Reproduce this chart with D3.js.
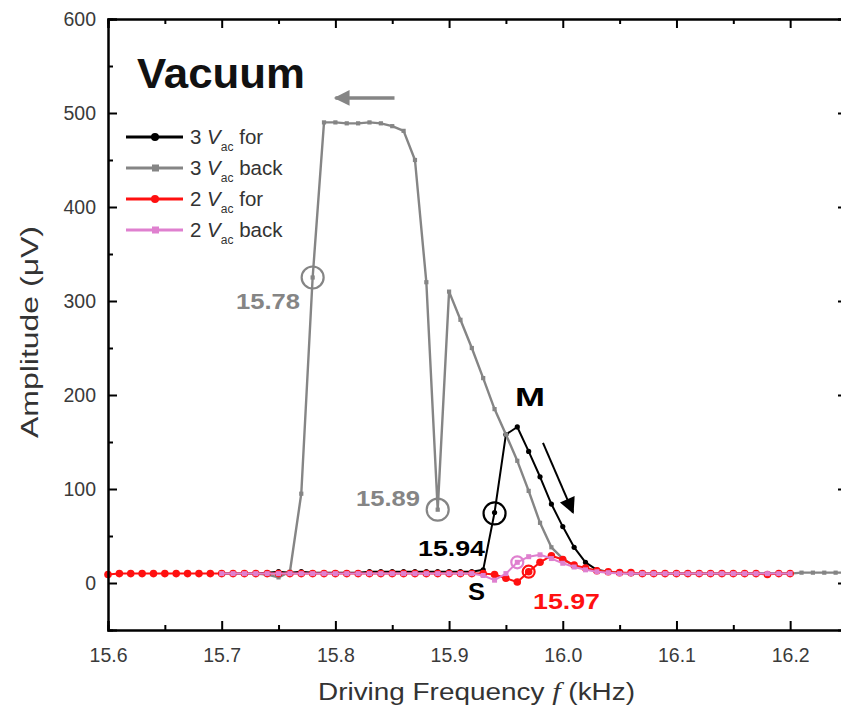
<!DOCTYPE html>
<html><head><meta charset="utf-8">
<script src="https://cdn.jsdelivr.net/npm/d3@7"></script>
<style>body{margin:0;background:#fff}svg{display:block}</style>
</head><body>
<svg id="c" width="841" height="715"></svg>
<script>
// ---- data (kHz, µV) ----
const freq3for = [15.70,15.71,15.72,15.73,15.74,15.75,15.76,15.77,15.78,15.79,15.80,15.81,15.82,15.83,15.84,15.85,15.86,15.87,15.88,15.89,15.90,15.91,15.92,15.93,15.94,15.95,15.96,15.97,15.98,15.99,16.00,16.01,16.02,16.03,16.04,16.05,16.06,16.07,16.08,16.09,16.10,16.11,16.12,16.13,16.14,16.15,16.16,16.17,16.18,16.19,16.20];
const amp3for  = [10,10,10,10,11,12,11,12,11,11,11,11,11,12,12,12,12,12,12,12,12,12,12,14,75,158,166,140,113,84,60,38,22,14,12,11,10,10,10,10,10,10,10,10,10,10,10,10,10,10,10];

const freq3back = [16.25,16.24,16.23,16.22,16.21,16.20,16.19,16.18,16.17,16.16,16.15,16.14,16.13,16.12,16.11,16.10,16.09,16.08,16.07,16.06,16.05,16.04,16.03,16.02,16.01,16.00,15.99,15.98,15.97,15.96,15.95,15.94,15.93,15.92,15.91,15.90,15.89,15.88,15.87,15.86,15.85,15.84,15.83,15.82,15.81,15.80,15.79,15.78,15.77,15.76,15.75,15.74,15.73,15.72,15.71,15.70];
const amp3back  = [11,11,11,11,11,10,10,10,10,10,10,10,10,10,10,10,10,10,10,10,11,12,13,15,18,26,38,64,98,130,158,185,218,250,280,310,78,320,450,481,486,489,490,489,489,490,490,325,95,12,6,9,10,10,10,10];

const freq2for = [15.60,15.61,15.62,15.63,15.64,15.65,15.66,15.67,15.68,15.69,15.70,15.71,15.72,15.73,15.74,15.75,15.76,15.77,15.78,15.79,15.80,15.81,15.82,15.83,15.84,15.85,15.86,15.87,15.88,15.89,15.90,15.91,15.92,15.93,15.94,15.95,15.96,15.97,15.98,15.99,16.00,16.01,16.02,16.03,16.04,16.05,16.06,16.07,16.08,16.09,16.10,16.11,16.12,16.13,16.14,16.15,16.16,16.17,16.18,16.19,16.20];
const amp2for  = [9,10,10,10,10,10,10,10,10,10,10,10,10,10,10,10,10,10,10,10,10,10,10,10,10,10,10,10,10,10,10,10,10,10,9,5,1,12,22,29,25,19,16,13,12,11,11,10,10,10,10,10,10,10,10,10,10,10,9,10,10];

const freq2back = [16.20,16.19,16.18,16.17,16.16,16.15,16.14,16.13,16.12,16.11,16.10,16.09,16.08,16.07,16.06,16.05,16.04,16.03,16.02,16.01,16.00,15.99,15.98,15.97,15.96,15.95,15.94,15.93,15.92,15.91,15.90,15.89,15.88,15.87,15.86,15.85,15.84,15.83,15.82,15.81,15.80,15.79,15.78,15.77,15.76,15.75,15.74,15.73,15.72,15.71,15.70];
const amp2back  = [10,10,10,10,10,10,10,10,10,10,10,10,10,10,10,10,11,12,14,17,21,26,30,28,22,10,3,8,10,10,10,10,10,10,10,10,10,10,10,10,10,10,10,10,10,10,10,10,10,10,10];

const xTicks = [15.6,15.7,15.8,15.9,16.0,16.1,16.2];
const xTickLabels = ["15.6","15.7","15.8","15.9","16.0","16.1","16.2"];
const yTicks = [0,100,200,300,400,500,600];
const legendLabels = ["for","back","for","back"];
const legendVolts = ["3","3","2","2"];

// ---- layout ----
const svg = d3.select("#c");
const L=108, R=847, T=19, B=630;
const x = d3.scaleLinear().domain([15.6,16.25]).range([L,R]);
const y = d3.scaleLinear().domain([-50,600]).range([B,T]);

const series = [
  {f:freq3for, a:amp3for, color:"#000000", w:2, mark:"circle", ms:2.6},
  {f:freq3back,a:amp3back,color:"#858585", w:2.4, mark:"square", ms:4.2},
  {f:freq2for, a:amp2for, color:"#ff1010", w:2, mark:"circle", ms:3.8},
  {f:freq2back,a:amp2back,color:"#df80cf", w:2, mark:"square", ms:5}
];

const line = d3.line().x(d=>x(d[0])).y(d=>y(d[1]));
series.forEach(s=>{
  const pts = s.f.map((f,i)=>[f,s.a[i]]);
  const g = svg.append("g");
  g.append("path").attr("d",line(pts)).attr("fill","none").attr("stroke",s.color).attr("stroke-width",s.w).attr("stroke-linejoin","round");
  if(s.mark==="circle"){
    g.selectAll("circle").data(pts).join("circle").attr("cx",d=>x(d[0])).attr("cy",d=>y(d[1])).attr("r",s.ms).attr("fill",s.color);
  } else {
    g.selectAll("rect").data(pts).join("rect").attr("x",d=>x(d[0])-s.ms/2).attr("y",d=>y(d[1])-s.ms/2).attr("width",s.ms).attr("height",s.ms).attr("fill",s.color);
  }
});

// ---- axes ----
const font = "'Liberation Sans', Arial, sans-serif";
const xb = d3.axisBottom(x).tickValues(xTicks).tickSize(-9).tickFormat((d,i)=>xTickLabels[i]).tickPadding(18);
svg.append("g").attr("transform",`translate(0,${B})`).call(xb);
const xMinor = d3.range(15.65,16.25,0.1);
svg.append("g").attr("transform",`translate(0,${B})`).call(d3.axisBottom(x).tickValues(xMinor).tickSize(-5).tickFormat(""));
svg.append("g").attr("transform",`translate(0,${T})`).call(d3.axisTop(x).tickValues(xTicks).tickSize(-9).tickFormat(""));
svg.append("g").attr("transform",`translate(0,${T})`).call(d3.axisTop(x).tickValues(xMinor).tickSize(-5).tickFormat(""));
svg.append("g").attr("transform",`translate(${L},0)`).call(d3.axisLeft(y).tickValues(yTicks).tickSize(-9).tickPadding(12));
const yMinor = [50,150,250,350,450,550];
svg.append("g").attr("transform",`translate(${L},0)`).call(d3.axisLeft(y).tickValues(yMinor).tickSize(-5).tickFormat(""));
svg.append("g").attr("transform",`translate(${R},0)`).call(d3.axisRight(y).tickValues(yTicks).tickSize(-9).tickFormat(""));
svg.append("g").attr("transform",`translate(${R},0)`).call(d3.axisRight(y).tickValues(yMinor).tickSize(-5).tickFormat(""));
svg.selectAll(".domain").attr("stroke","#000").attr("stroke-width",2);
svg.selectAll(".tick line").attr("stroke","#000").attr("stroke-width",2);
svg.selectAll(".tick text").attr("font-family",font).attr("font-size",19.5).attr("fill","#3a3a3a");

// axis titles
const xt = svg.append("text").attr("x",318).attr("y",700).attr("font-family",font).attr("font-size",23).attr("fill","#333")
  .attr("textLength",317).attr("lengthAdjust","spacingAndGlyphs");
xt.append("tspan").text("Driving Frequency ");
xt.append("tspan").attr("font-family","'Liberation Serif','Times New Roman',serif").attr("font-style","italic").attr("font-size",25).text("f");
xt.append("tspan").text(" (kHz)");
svg.append("text").attr("transform","translate(38,438) rotate(-90)").attr("font-family",font).attr("font-size",23).attr("fill","#333")
  .attr("textLength",212).attr("lengthAdjust","spacingAndGlyphs").text("Amplitude (\u03bcV)");

// title
svg.append("text").attr("x",137).attr("y",88).attr("font-family",font).attr("font-weight","bold").attr("font-size",42).attr("fill","#111")
  .attr("textLength",168).attr("lengthAdjust","spacingAndGlyphs").text("Vacuum");

// legend
const lg = svg.append("g");
series.forEach((s,i)=>{
  const yy = 137 + i*31;
  lg.append("line").attr("x1",126).attr("x2",183).attr("y1",yy).attr("y2",yy).attr("stroke",s.color).attr("stroke-width",3);
  if(s.mark==="circle") lg.append("circle").attr("cx",155).attr("cy",yy).attr("r",4).attr("fill",s.color);
  else lg.append("rect").attr("x",152).attr("y",yy-3.5).attr("width",7).attr("height",7).attr("fill",s.color);
  const t = lg.append("text").attr("x",190).attr("y",yy+7).attr("font-family",font).attr("font-size",20.5).attr("fill","#333");
  t.append("tspan").text(legendVolts[i]+" ");
  t.append("tspan").attr("font-style","italic").text("V");
  t.append("tspan").attr("font-size",12).attr("dy",7).text("ac");
  t.append("tspan").attr("dy",-7).text(" "+legendLabels[i]);
});

// annotations
const defs = svg.append("defs");
defs.append("marker").attr("id","ag").attr("viewBox","0 0 10 10").attr("refX",9).attr("refY",5)
  .attr("markerWidth",5.5).attr("markerHeight",4.5).attr("orient","auto").attr("markerUnits","strokeWidth")
  .append("path").attr("d","M0,0L10,5L0,10z").attr("fill","#858585");
defs.append("marker").attr("id","ab").attr("viewBox","0 0 10 10").attr("refX",9).attr("refY",5)
  .attr("markerWidth",10).attr("markerHeight",8).attr("orient","auto").attr("markerUnits","strokeWidth")
  .append("path").attr("d","M0,0L10,5L0,10z").attr("fill","#000");
svg.append("line").attr("x1",x(15.852)).attr("y1",y(516)).attr("x2",x(15.8)).attr("y2",y(516)).attr("stroke","#858585").attr("stroke-width",3.5).attr("marker-end","url(#ag)");
svg.append("line").attr("x1",x(15.9826)).attr("y1",y(149)).attr("x2",x(16.009)).attr("y2",y(75)).attr("stroke","#000").attr("stroke-width",2).attr("marker-end","url(#ab)");

const circ = [[15.78,325,11,"#858585"],[15.89,78,11,"#858585"],[15.94,74,11,"#000"],[15.97,12,6,"#ff1010"],[15.96,22,6,"#df80cf"]];
circ.forEach(c=>svg.append("circle").attr("cx",x(c[0])).attr("cy",y(c[1])).attr("r",c[2]).attr("fill","none").attr("stroke",c[3]).attr("stroke-width",2.2));

const notes = [["15.78",236,309,"#858585",22,64],["15.89",356,506,"#858585",22,64],["15.94",418,556,"#000",22,67],["S",468,600,"#000",23,17],["M",515,406,"#000",25,30],["15.97",533,609,"#ff1010",22,67]];
notes.forEach(n=>svg.append("text").attr("x",n[1]).attr("y",n[2]).attr("font-family",font).attr("font-weight","bold").attr("font-size",n[4]).attr("fill",n[3])
  .attr("textLength",n[5]).attr("lengthAdjust","spacingAndGlyphs").text(n[0]));
</script>
</body></html>
